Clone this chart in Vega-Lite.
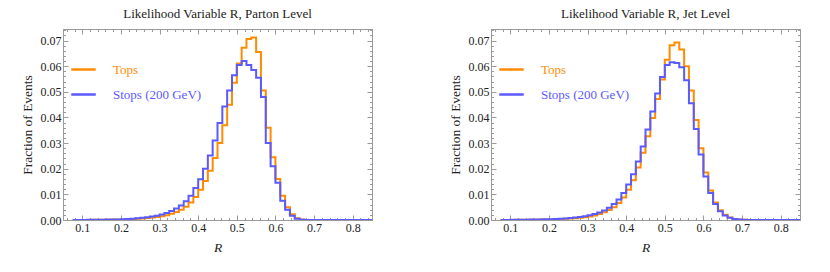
{
 "$schema": "https://vega.github.io/schema/vega-lite/v6.json",
 "padding": {"left": 20, "top": 7, "right": 5, "bottom": 5},
 "background": "white",
 "config": {
  "font": "Liberation Serif",
  "view": {"stroke": null},
  "axis": {"domainColor": "#9a9a9a", "tickColor": "#9a9a9a", "labelColor": "#222", "titleColor": "#222", "labelFont": "Liberation Serif", "titleFont": "Liberation Serif", "labelFontSize": 12, "titleFontSize": 13.5, "titleFontWeight": "normal", "grid": false},
  "legend": {"labelFont": "Liberation Serif"},
  "title": {"font": "Liberation Serif", "fontSize": 13, "fontWeight": "normal", "color": "#222"}
 },
 "resolve": {"legend": {"color": "independent"}},
 "spacing": 73,
 "datasets": {
  "parton": [
   {"r":0.075,"Tops":0,"Stops (200 GeV)":0},
   {"r":0.0875,"Tops":0,"Stops (200 GeV)":0},
   {"r":0.1,"Tops":0,"Stops (200 GeV)":0},
   {"r":0.1125,"Tops":0,"Stops (200 GeV)":0.0001},
   {"r":0.125,"Tops":0.0001,"Stops (200 GeV)":0.0001},
   {"r":0.1375,"Tops":0.0001,"Stops (200 GeV)":0.0001},
   {"r":0.15,"Tops":0.0001,"Stops (200 GeV)":0.0001},
   {"r":0.1625,"Tops":0.0001,"Stops (200 GeV)":0.0002},
   {"r":0.175,"Tops":0.0001,"Stops (200 GeV)":0.0002},
   {"r":0.1875,"Tops":0.0002,"Stops (200 GeV)":0.0002},
   {"r":0.2,"Tops":0.0002,"Stops (200 GeV)":0.0003},
   {"r":0.2125,"Tops":0.0003,"Stops (200 GeV)":0.0004},
   {"r":0.225,"Tops":0.0004,"Stops (200 GeV)":0.0005},
   {"r":0.2375,"Tops":0.0005,"Stops (200 GeV)":0.0007},
   {"r":0.25,"Tops":0.0006,"Stops (200 GeV)":0.0009},
   {"r":0.2625,"Tops":0.0008,"Stops (200 GeV)":0.0011},
   {"r":0.275,"Tops":0.001,"Stops (200 GeV)":0.0014},
   {"r":0.2875,"Tops":0.0012,"Stops (200 GeV)":0.0017},
   {"r":0.3,"Tops":0.0015,"Stops (200 GeV)":0.0021},
   {"r":0.3125,"Tops":0.0019,"Stops (200 GeV)":0.0027},
   {"r":0.325,"Tops":0.0024,"Stops (200 GeV)":0.0035},
   {"r":0.3375,"Tops":0.0031,"Stops (200 GeV)":0.0045},
   {"r":0.35,"Tops":0.004,"Stops (200 GeV)":0.0057},
   {"r":0.3625,"Tops":0.0052,"Stops (200 GeV)":0.0073},
   {"r":0.375,"Tops":0.0068,"Stops (200 GeV)":0.0095},
   {"r":0.3875,"Tops":0.009,"Stops (200 GeV)":0.0125},
   {"r":0.4,"Tops":0.0118,"Stops (200 GeV)":0.0159},
   {"r":0.4125,"Tops":0.0152,"Stops (200 GeV)":0.02},
   {"r":0.425,"Tops":0.0192,"Stops (200 GeV)":0.0252},
   {"r":0.4375,"Tops":0.0242,"Stops (200 GeV)":0.031},
   {"r":0.45,"Tops":0.03,"Stops (200 GeV)":0.0378},
   {"r":0.4625,"Tops":0.037,"Stops (200 GeV)":0.0443},
   {"r":0.475,"Tops":0.045,"Stops (200 GeV)":0.0505},
   {"r":0.4875,"Tops":0.0535,"Stops (200 GeV)":0.0565},
   {"r":0.5,"Tops":0.061,"Stops (200 GeV)":0.0605},
   {"r":0.5125,"Tops":0.0672,"Stops (200 GeV)":0.062},
   {"r":0.525,"Tops":0.0706,"Stops (200 GeV)":0.0605},
   {"r":0.5375,"Tops":0.0712,"Stops (200 GeV)":0.0585},
   {"r":0.55,"Tops":0.0655,"Stops (200 GeV)":0.0555},
   {"r":0.5625,"Tops":0.0505,"Stops (200 GeV)":0.048},
   {"r":0.575,"Tops":0.036,"Stops (200 GeV)":0.03},
   {"r":0.5875,"Tops":0.0245,"Stops (200 GeV)":0.021},
   {"r":0.6,"Tops":0.016,"Stops (200 GeV)":0.0145},
   {"r":0.6125,"Tops":0.0095,"Stops (200 GeV)":0.0075},
   {"r":0.625,"Tops":0.005,"Stops (200 GeV)":0.004},
   {"r":0.6375,"Tops":0.0022,"Stops (200 GeV)":0.0017},
   {"r":0.65,"Tops":0.0007,"Stops (200 GeV)":0.0005},
   {"r":0.6625,"Tops":0.0002,"Stops (200 GeV)":0.0001},
   {"r":0.675,"Tops":0,"Stops (200 GeV)":0},
   {"r":0.6875,"Tops":0,"Stops (200 GeV)":0},
   {"r":0.7,"Tops":0,"Stops (200 GeV)":0},
   {"r":0.7125,"Tops":0,"Stops (200 GeV)":0},
   {"r":0.725,"Tops":0,"Stops (200 GeV)":0},
   {"r":0.7375,"Tops":0,"Stops (200 GeV)":0},
   {"r":0.75,"Tops":0,"Stops (200 GeV)":0},
   {"r":0.7625,"Tops":0,"Stops (200 GeV)":0},
   {"r":0.775,"Tops":0,"Stops (200 GeV)":0},
   {"r":0.7875,"Tops":0,"Stops (200 GeV)":0},
   {"r":0.8,"Tops":0,"Stops (200 GeV)":0},
   {"r":0.8125,"Tops":0,"Stops (200 GeV)":0},
   {"r":0.825,"Tops":0,"Stops (200 GeV)":0},
   {"r":0.8375,"Tops":0,"Stops (200 GeV)":0},
   {"r":0.85,"Tops":0,"Stops (200 GeV)":0}
  ],
  "jet": [
   {"r":0.075,"Tops":0,"Stops (200 GeV)":0},
   {"r":0.0875,"Tops":0,"Stops (200 GeV)":0},
   {"r":0.1,"Tops":0,"Stops (200 GeV)":0.0001},
   {"r":0.1125,"Tops":0.0001,"Stops (200 GeV)":0.0001},
   {"r":0.125,"Tops":0.0001,"Stops (200 GeV)":0.0001},
   {"r":0.1375,"Tops":0.0001,"Stops (200 GeV)":0.0001},
   {"r":0.15,"Tops":0.0001,"Stops (200 GeV)":0.0002},
   {"r":0.1625,"Tops":0.0001,"Stops (200 GeV)":0.0002},
   {"r":0.175,"Tops":0.0002,"Stops (200 GeV)":0.0002},
   {"r":0.1875,"Tops":0.0002,"Stops (200 GeV)":0.0003},
   {"r":0.2,"Tops":0.0002,"Stops (200 GeV)":0.0003},
   {"r":0.2125,"Tops":0.0003,"Stops (200 GeV)":0.0004},
   {"r":0.225,"Tops":0.0004,"Stops (200 GeV)":0.0005},
   {"r":0.2375,"Tops":0.0005,"Stops (200 GeV)":0.0006},
   {"r":0.25,"Tops":0.0006,"Stops (200 GeV)":0.0008},
   {"r":0.2625,"Tops":0.0007,"Stops (200 GeV)":0.001},
   {"r":0.275,"Tops":0.0009,"Stops (200 GeV)":0.0012},
   {"r":0.2875,"Tops":0.0011,"Stops (200 GeV)":0.0015},
   {"r":0.3,"Tops":0.0014,"Stops (200 GeV)":0.0019},
   {"r":0.3125,"Tops":0.0018,"Stops (200 GeV)":0.0023},
   {"r":0.325,"Tops":0.0023,"Stops (200 GeV)":0.0029},
   {"r":0.3375,"Tops":0.003,"Stops (200 GeV)":0.0037},
   {"r":0.35,"Tops":0.0039,"Stops (200 GeV)":0.0048},
   {"r":0.3625,"Tops":0.005,"Stops (200 GeV)":0.0062},
   {"r":0.375,"Tops":0.0066,"Stops (200 GeV)":0.008},
   {"r":0.3875,"Tops":0.0088,"Stops (200 GeV)":0.0105},
   {"r":0.4,"Tops":0.0118,"Stops (200 GeV)":0.0138},
   {"r":0.4125,"Tops":0.0155,"Stops (200 GeV)":0.0178},
   {"r":0.425,"Tops":0.0205,"Stops (200 GeV)":0.0228},
   {"r":0.4375,"Tops":0.0262,"Stops (200 GeV)":0.0287},
   {"r":0.45,"Tops":0.0327,"Stops (200 GeV)":0.0353},
   {"r":0.4625,"Tops":0.0398,"Stops (200 GeV)":0.0423},
   {"r":0.475,"Tops":0.0472,"Stops (200 GeV)":0.0493},
   {"r":0.4875,"Tops":0.0548,"Stops (200 GeV)":0.0558},
   {"r":0.5,"Tops":0.0625,"Stops (200 GeV)":0.0605},
   {"r":0.5125,"Tops":0.0682,"Stops (200 GeV)":0.0615},
   {"r":0.525,"Tops":0.0692,"Stops (200 GeV)":0.0612},
   {"r":0.5375,"Tops":0.0665,"Stops (200 GeV)":0.0596},
   {"r":0.55,"Tops":0.06,"Stops (200 GeV)":0.0545},
   {"r":0.5625,"Tops":0.0505,"Stops (200 GeV)":0.0455},
   {"r":0.575,"Tops":0.039,"Stops (200 GeV)":0.0355},
   {"r":0.5875,"Tops":0.028,"Stops (200 GeV)":0.0255},
   {"r":0.6,"Tops":0.0185,"Stops (200 GeV)":0.017},
   {"r":0.6125,"Tops":0.0115,"Stops (200 GeV)":0.0105},
   {"r":0.625,"Tops":0.0068,"Stops (200 GeV)":0.0062},
   {"r":0.6375,"Tops":0.0038,"Stops (200 GeV)":0.0034},
   {"r":0.65,"Tops":0.002,"Stops (200 GeV)":0.0018},
   {"r":0.6625,"Tops":0.001,"Stops (200 GeV)":0.0009},
   {"r":0.675,"Tops":0.0004,"Stops (200 GeV)":0.0004},
   {"r":0.6875,"Tops":0.0002,"Stops (200 GeV)":0.0002},
   {"r":0.7,"Tops":0.0001,"Stops (200 GeV)":0.0001},
   {"r":0.7125,"Tops":0,"Stops (200 GeV)":0},
   {"r":0.725,"Tops":0,"Stops (200 GeV)":0},
   {"r":0.7375,"Tops":0,"Stops (200 GeV)":0},
   {"r":0.75,"Tops":0,"Stops (200 GeV)":0},
   {"r":0.7625,"Tops":0,"Stops (200 GeV)":0},
   {"r":0.775,"Tops":0,"Stops (200 GeV)":0},
   {"r":0.7875,"Tops":0,"Stops (200 GeV)":0},
   {"r":0.8,"Tops":0,"Stops (200 GeV)":0},
   {"r":0.8125,"Tops":0,"Stops (200 GeV)":0},
   {"r":0.825,"Tops":0,"Stops (200 GeV)":0},
   {"r":0.8375,"Tops":0,"Stops (200 GeV)":0},
   {"r":0.85,"Tops":0,"Stops (200 GeV)":0}
  ]
 },
 "hconcat": [
  {
   "title": {"text": "Likelihood Variable R, Parton Level", "offset": 8},
   "width": 309, "height": 191,
   "data": {"name": "parton"},
   "transform": [{"fold": ["Tops", "Stops (200 GeV)"], "as": ["s", "v"]}],
   "resolve": {"axis": {"x": "independent", "y": "independent"}},
   "layer": [
    {
     "mark": {"type": "line", "interpolate": "step-after", "strokeWidth": 2, "clip": true},
     "encoding": {
      "x": {"field": "r", "type": "quantitative", "scale": {"domain": [0.05, 0.85], "nice": false, "zero": false},
            "axis": {"orient": "bottom", "values": [0.1,0.2,0.3,0.4,0.5,0.6,0.7,0.8], "format": ".1f", "title": "R", "titleFontStyle": "italic", "tickSize": -5, "labelPadding": 7, "titlePadding": 7}},
      "y": {"field": "v", "type": "quantitative", "scale": {"domain": [0, 0.0745], "nice": false},
            "axis": {"orient": "left", "values": [0,0.01,0.02,0.03,0.04,0.05,0.06,0.07], "format": ".2f", "title": "Fraction of Events", "tickSize": -5, "labelPadding": 7, "titlePadding": 6}},
      "color": {"field": "s", "type": "nominal", "scale": {"domain": ["Tops", "Stops (200 GeV)"], "range": ["#ff8c00", "#5a5aff"]},
                "legend": {"orient": "none", "legendX": 7, "legendY": 27, "title": null, "symbolType": "stroke", "symbolSize": 600, "symbolStrokeWidth": 2.5, "labelFontSize": 13, "labelFont": "Liberation Serif", "labelOffset": 16, "rowPadding": 4, "padding": 0,
                           "encode": {"labels": {"update": {"fill": {"signal": "datum.value === 'Tops' ? '#ff8c00' : '#5a5aff'"}}}}}}
     }
    },
    {
     "mark": {"type": "point", "opacity": 0},
     "encoding": {
      "x": {"field": "r", "type": "quantitative", "axis": {"orient": "bottom", "values": [0.06,0.08,0.1,0.12,0.14,0.16,0.18,0.2,0.22,0.24,0.26,0.28,0.3,0.32,0.34,0.36,0.38,0.4,0.42,0.44,0.46,0.48,0.5,0.52,0.54,0.56,0.58,0.6,0.62,0.64,0.66,0.68,0.7,0.72,0.74,0.76,0.78,0.8,0.82,0.84], "labels": false, "title": null, "tickSize": -2.5}},
      "y": {"field": "v", "type": "quantitative", "axis": {"orient": "left", "values": [0,0.002,0.004,0.006,0.008,0.01,0.012,0.014,0.016,0.018,0.02,0.022,0.024,0.026,0.028,0.03,0.032,0.034,0.036,0.038,0.04,0.042,0.044,0.046,0.048,0.05,0.052,0.054,0.056,0.058,0.06,0.062,0.064,0.066,0.068,0.07,0.072,0.074], "labels": false, "title": null, "tickSize": -2.5}}
     }
    },
    {
     "mark": {"type": "point", "opacity": 0},
     "encoding": {
      "x": {"field": "r", "type": "quantitative", "axis": {"orient": "top", "values": [0.1,0.2,0.3,0.4,0.5,0.6,0.7,0.8], "labels": false, "title": null, "tickSize": -5}},
      "y": {"field": "v", "type": "quantitative", "axis": {"orient": "right", "values": [0,0.01,0.02,0.03,0.04,0.05,0.06,0.07], "labels": false, "title": null, "tickSize": -5}}
     }
    },
    {
     "mark": {"type": "point", "opacity": 0},
     "encoding": {
      "x": {"field": "r", "type": "quantitative", "axis": {"orient": "top", "values": [0.06,0.08,0.1,0.12,0.14,0.16,0.18,0.2,0.22,0.24,0.26,0.28,0.3,0.32,0.34,0.36,0.38,0.4,0.42,0.44,0.46,0.48,0.5,0.52,0.54,0.56,0.58,0.6,0.62,0.64,0.66,0.68,0.7,0.72,0.74,0.76,0.78,0.8,0.82,0.84], "labels": false, "title": null, "tickSize": -2.5}},
      "y": {"field": "v", "type": "quantitative", "axis": {"orient": "right", "values": [0,0.002,0.004,0.006,0.008,0.01,0.012,0.014,0.016,0.018,0.02,0.022,0.024,0.026,0.028,0.03,0.032,0.034,0.036,0.038,0.04,0.042,0.044,0.046,0.048,0.05,0.052,0.054,0.056,0.058,0.06,0.062,0.064,0.066,0.068,0.07,0.072,0.074], "labels": false, "title": null, "tickSize": -2.5}}
     }
    }
   ]
  },
  {
   "title": {"text": "Likelihood Variable R, Jet Level", "offset": 8},
   "width": 309, "height": 191,
   "data": {"name": "jet"},
   "transform": [{"fold": ["Tops", "Stops (200 GeV)"], "as": ["s", "v"]}],
   "resolve": {"axis": {"x": "independent", "y": "independent"}},
   "layer": [
    {
     "mark": {"type": "line", "interpolate": "step-after", "strokeWidth": 2, "clip": true},
     "encoding": {
      "x": {"field": "r", "type": "quantitative", "scale": {"domain": [0.05, 0.85], "nice": false, "zero": false},
            "axis": {"orient": "bottom", "values": [0.1,0.2,0.3,0.4,0.5,0.6,0.7,0.8], "format": ".1f", "title": "R", "titleFontStyle": "italic", "tickSize": -5, "labelPadding": 7, "titlePadding": 7}},
      "y": {"field": "v", "type": "quantitative", "scale": {"domain": [0, 0.0745], "nice": false},
            "axis": {"orient": "left", "values": [0,0.01,0.02,0.03,0.04,0.05,0.06,0.07], "format": ".2f", "title": "Fraction of Events", "tickSize": -5, "labelPadding": 7, "titlePadding": 6}},
      "color": {"field": "s", "type": "nominal", "scale": {"domain": ["Tops", "Stops (200 GeV)"], "range": ["#ff8c00", "#5a5aff"]},
                "legend": {"orient": "none", "legendX": 7, "legendY": 27, "title": null, "symbolType": "stroke", "symbolSize": 600, "symbolStrokeWidth": 2.5, "labelFontSize": 13, "labelFont": "Liberation Serif", "labelOffset": 16, "rowPadding": 4, "padding": 0,
                           "encode": {"labels": {"update": {"fill": {"signal": "datum.value === 'Tops' ? '#ff8c00' : '#5a5aff'"}}}}}}
     }
    },
    {
     "mark": {"type": "point", "opacity": 0},
     "encoding": {
      "x": {"field": "r", "type": "quantitative", "axis": {"orient": "bottom", "values": [0.06,0.08,0.1,0.12,0.14,0.16,0.18,0.2,0.22,0.24,0.26,0.28,0.3,0.32,0.34,0.36,0.38,0.4,0.42,0.44,0.46,0.48,0.5,0.52,0.54,0.56,0.58,0.6,0.62,0.64,0.66,0.68,0.7,0.72,0.74,0.76,0.78,0.8,0.82,0.84], "labels": false, "title": null, "tickSize": -2.5}},
      "y": {"field": "v", "type": "quantitative", "axis": {"orient": "left", "values": [0,0.002,0.004,0.006,0.008,0.01,0.012,0.014,0.016,0.018,0.02,0.022,0.024,0.026,0.028,0.03,0.032,0.034,0.036,0.038,0.04,0.042,0.044,0.046,0.048,0.05,0.052,0.054,0.056,0.058,0.06,0.062,0.064,0.066,0.068,0.07,0.072,0.074], "labels": false, "title": null, "tickSize": -2.5}}
     }
    },
    {
     "mark": {"type": "point", "opacity": 0},
     "encoding": {
      "x": {"field": "r", "type": "quantitative", "axis": {"orient": "top", "values": [0.1,0.2,0.3,0.4,0.5,0.6,0.7,0.8], "labels": false, "title": null, "tickSize": -5}},
      "y": {"field": "v", "type": "quantitative", "axis": {"orient": "right", "values": [0,0.01,0.02,0.03,0.04,0.05,0.06,0.07], "labels": false, "title": null, "tickSize": -5}}
     }
    },
    {
     "mark": {"type": "point", "opacity": 0},
     "encoding": {
      "x": {"field": "r", "type": "quantitative", "axis": {"orient": "top", "values": [0.06,0.08,0.1,0.12,0.14,0.16,0.18,0.2,0.22,0.24,0.26,0.28,0.3,0.32,0.34,0.36,0.38,0.4,0.42,0.44,0.46,0.48,0.5,0.52,0.54,0.56,0.58,0.6,0.62,0.64,0.66,0.68,0.7,0.72,0.74,0.76,0.78,0.8,0.82,0.84], "labels": false, "title": null, "tickSize": -2.5}},
      "y": {"field": "v", "type": "quantitative", "axis": {"orient": "right", "values": [0,0.002,0.004,0.006,0.008,0.01,0.012,0.014,0.016,0.018,0.02,0.022,0.024,0.026,0.028,0.03,0.032,0.034,0.036,0.038,0.04,0.042,0.044,0.046,0.048,0.05,0.052,0.054,0.056,0.058,0.06,0.062,0.064,0.066,0.068,0.07,0.072,0.074], "labels": false, "title": null, "tickSize": -2.5}}
     }
    }
   ]
  }
 ]
}
